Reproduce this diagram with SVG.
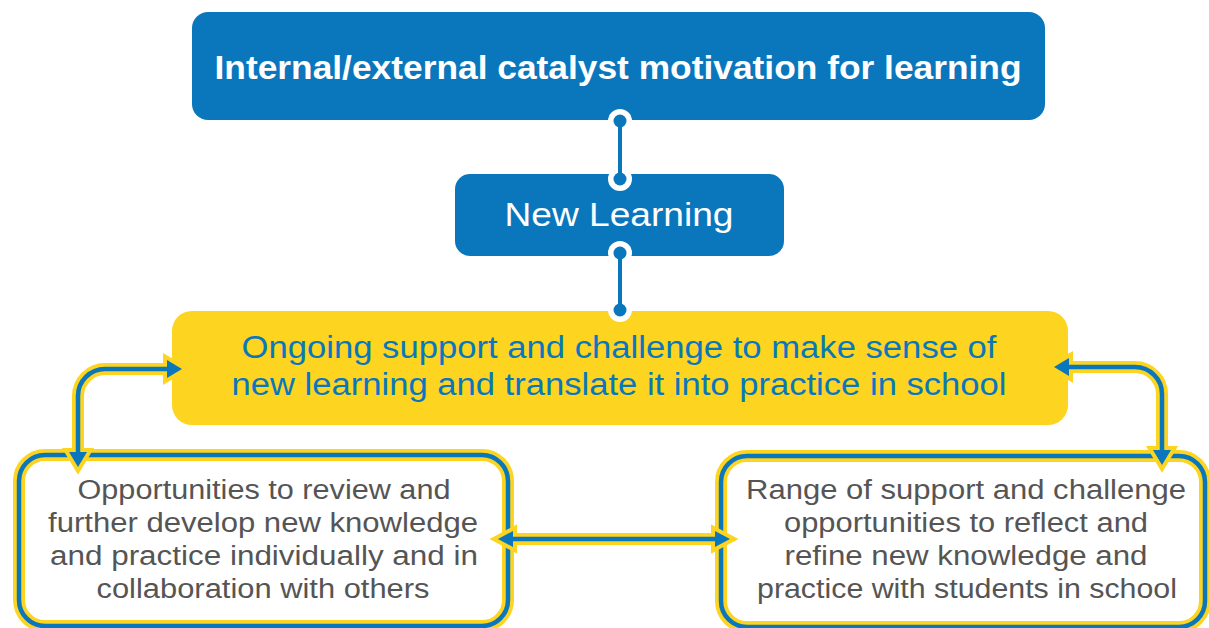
<svg xmlns="http://www.w3.org/2000/svg" width="1209" height="628" viewBox="0 0 1209 628">
  <defs>
    <style>
      .blue-box { fill: #0A77BD; }
      .gold-box { fill: #FDD420; }
      .title { font-family: "Liberation Sans", Arial, sans-serif; font-weight: bold; font-size: 33px; fill: #FFFFFF; text-anchor: middle; }
      .head { font-family: "Liberation Sans", Arial, sans-serif; font-size: 33px; fill: #FFFFFF; text-anchor: middle; }
      .mid { font-family: "Liberation Sans", Arial, sans-serif; font-size: 31px; fill: #0A77BD; text-anchor: middle; }
      .body { font-family: "Liberation Sans", Arial, sans-serif; font-size: 27px; fill: #555555; text-anchor: middle; }
      .casing { fill: none; stroke: #FDD420; stroke-width: 12; }
      .line { fill: none; stroke: #0A77BD; stroke-width: 4.5; }
      .head-casing { fill: #FDD420; stroke: #FDD420; stroke-width: 8; stroke-linejoin: miter; }
      .head-fill { fill: #0A77BD; }
      .stem { stroke: #0A77BD; stroke-width: 4; }
      .dot-ring { fill: #FFFFFF; }
      .dot { fill: #0A77BD; }
    </style>
  </defs>

  <!-- top box -->
  <g id="catalyst">
    <rect class="blue-box" x="192" y="12" width="853" height="108" rx="16"/>
    <text class="title" x="618" y="79" textLength="807" lengthAdjust="spacingAndGlyphs">Internal/external catalyst motivation for learning</text>
  </g>

  <!-- new learning box -->
  <g id="new-learning">
    <rect class="blue-box" x="455" y="174" width="329" height="82" rx="15"/>
    <text class="head" x="619" y="226" textLength="229" lengthAdjust="spacingAndGlyphs">New Learning</text>
  </g>

  <!-- ongoing support box -->
  <g id="ongoing-support">
    <rect class="gold-box" x="172" y="311" width="896" height="114" rx="20"/>
    <text class="mid" x="619" y="358" textLength="755" lengthAdjust="spacingAndGlyphs">Ongoing support and challenge to make sense of</text>
    <text class="mid" x="619" y="395" textLength="775" lengthAdjust="spacingAndGlyphs">new learning and translate it into practice in school</text>
  </g>

  <!-- left outlined box -->
  <g id="review-develop">
    <rect class="casing" x="19" y="455" width="489" height="171" rx="26"/>
    <rect class="line" x="19" y="455" width="489" height="171" rx="26"/>
    <text class="body" x="264" y="499" textLength="373" lengthAdjust="spacingAndGlyphs">Opportunities to review and</text>
    <text class="body" x="263" y="532" textLength="430" lengthAdjust="spacingAndGlyphs">further develop new knowledge</text>
    <text class="body" x="264" y="565" textLength="428" lengthAdjust="spacingAndGlyphs">and practice individually and in</text>
    <text class="body" x="263" y="598" textLength="333" lengthAdjust="spacingAndGlyphs">collaboration with others</text>
  </g>

  <!-- right outlined box -->
  <g id="reflect-refine">
    <rect class="casing" x="721" y="456" width="484" height="171" rx="26"/>
    <rect class="line" x="721" y="456" width="484" height="171" rx="26"/>
    <text class="body" x="966" y="499" textLength="440" lengthAdjust="spacingAndGlyphs">Range of support and challenge</text>
    <text class="body" x="966" y="532" textLength="364" lengthAdjust="spacingAndGlyphs">opportunities to reflect and</text>
    <text class="body" x="966" y="565" textLength="363" lengthAdjust="spacingAndGlyphs">refine new knowledge and</text>
    <text class="body" x="967" y="598" textLength="420" lengthAdjust="spacingAndGlyphs">practice with students in school</text>
  </g>

  <!-- connectors -->
  <g id="connectors">
    <!-- vertical links with end dots -->
    <line class="stem" x1="620" y1="121" x2="620" y2="179"/>
    <circle class="dot-ring" cx="620" cy="121" r="12"/>
    <circle class="dot" cx="620" cy="121" r="6.5"/>
    <circle class="dot-ring" cx="620" cy="179" r="12"/>
    <circle class="dot" cx="620" cy="179" r="6.5"/>
    <line class="stem" x1="620" y1="121" x2="620" y2="179"/>

    <line class="stem" x1="620" y1="253" x2="620" y2="310"/>
    <circle class="dot-ring" cx="620" cy="253" r="12"/>
    <circle class="dot" cx="620" cy="253" r="6.5"/>
    <circle class="dot-ring" cx="620" cy="310" r="12"/>
    <circle class="dot" cx="620" cy="310" r="6.5"/>
    <line class="stem" x1="620" y1="253" x2="620" y2="310"/>

    <!-- casings -->
    <path class="casing" d="M170 369 H105 A27 27 0 0 0 78 396 V452"/>
    <path class="casing" d="M1066 367 H1135 A27 27 0 0 1 1162 394 V450"/>
    <path class="casing" d="M510 539 H718"/>
    <polygon class="head-casing" points="167,360 182,369 167,378"/>
    <polygon class="head-casing" points="69,452 78,467 87,452"/>
    <polygon class="head-casing" points="1069,358 1054,367 1069,376"/>
    <polygon class="head-casing" points="1153,450 1162,465 1171,450"/>
    <polygon class="head-casing" points="513,531 498,539 513,547"/>
    <polygon class="head-casing" points="715,531 730,539 715,547"/>

    <!-- blue lines and heads -->
    <path class="line" d="M170 369 H105 A27 27 0 0 0 78 396 V454"/>
    <path class="line" d="M1066 367 H1135 A27 27 0 0 1 1162 394 V452"/>
    <path class="line" d="M510 539 H718"/>
    <polygon class="head-fill" points="167,360 182,369 167,378"/>
    <polygon class="head-fill" points="69,452 78,467 87,452"/>
    <polygon class="head-fill" points="1069,358 1054,367 1069,376"/>
    <polygon class="head-fill" points="1153,450 1162,465 1171,450"/>
    <polygon class="head-fill" points="513,531 498,539 513,547"/>
    <polygon class="head-fill" points="715,531 730,539 715,547"/>
  </g>
</svg>
